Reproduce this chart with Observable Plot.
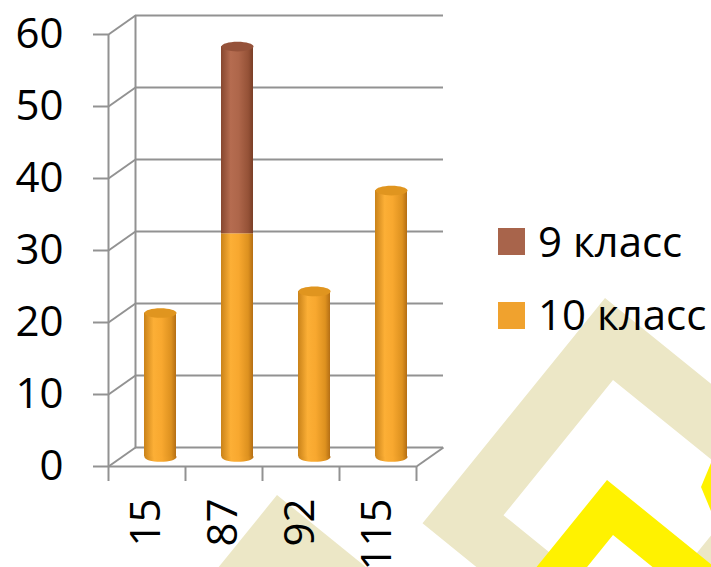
<!DOCTYPE html>
<html>
<head>
<meta charset="utf-8">
<script src="https://cdn.jsdelivr.net/npm/d3@7"></script>
<script src="https://cdn.jsdelivr.net/npm/@observablehq/plot@0.6"></script>
<style>
  html, body { margin: 0; padding: 0; background: #ffffff; }
  #wrap { position: relative; width: 711px; height: 567px; overflow: hidden; font-family: "Open Sans", sans-serif; }
  #bg, #chart { position: absolute; left: 0; top: 0; }
  .lg-sw { position: absolute; width: 27px; height: 27px; }
  .lg-tx { position: absolute; font-size: 42px; line-height: 42px; color: #000; white-space: nowrap; }
</style>
</head>
<body>
<svg width="0" height="0" style="position:absolute">
  <defs>
    <linearGradient id="g10" x1="0" x2="1" y1="0" y2="0">
      <stop offset="0" stop-color="#c98219"/>
      <stop offset="0.3" stop-color="#fcaf36"/>
      <stop offset="0.55" stop-color="#f8a82f"/>
      <stop offset="0.85" stop-color="#dd911f"/>
      <stop offset="1" stop-color="#b46e14"/>
    </linearGradient>
    <linearGradient id="g9" x1="0" x2="1" y1="0" y2="0">
      <stop offset="0" stop-color="#86472f"/>
      <stop offset="0.3" stop-color="#b56c50"/>
      <stop offset="0.55" stop-color="#ae664a"/>
      <stop offset="0.85" stop-color="#955237"/>
      <stop offset="1" stop-color="#7a3e27"/>
    </linearGradient>
  </defs>
</svg>
<div id="wrap">
  <svg id="bg" width="711" height="567">
    <path fill="#ece7c6" fill-rule="evenodd" id="beige"></path>
    <path fill="#ece7c6" id="beige2"></path>
    <path fill="#fff200" fill-rule="evenodd" id="yellow"></path>
    <path fill="#fff200" d="M711,463 L701,487 L711,511 Z"></path>
  </svg>
  <div id="chart"></div>
</div>
<script>
// ---- data ----
const categories = ["15", "87", "92", "115"];
const class10 = [20, 31, 23, 37];
const class9 = [0, 26, 0, 0];
const seriesNames = ["9 класс", "10 класс"];
const yTicks = [0, 10, 20, 30, 40, 50, 60];

// ---- style / layout ----
const seriesColors = ["#a8644b", "#f0a22e"];
const W = 711, H = 567;
const ML = 108, MR = 295, MT = 34, MB = 101;
const DEPTH_X = 27, DEPTH_Y = 19;
const CYL_W = 32;
const GRID = "#929292";

// background decoration (rotated square frames)
function sq(tx, ty, s) {
  const u = [-Math.cos(51 * Math.PI / 180), Math.sin(51 * Math.PI / 180)];
  const v = [Math.cos(39 * Math.PI / 180), Math.sin(39 * Math.PI / 180)];
  const p = [[tx, ty], [tx + s * u[0], ty + s * u[1]], [tx + s * u[0] + s * v[0], ty + s * u[1] + s * v[1]], [tx + s * v[0], ty + s * v[1]]];
  return "M" + p.map(d => d.join(",")).join("L") + "Z";
}
document.getElementById("beige").setAttribute("d", sq(605, 298, 290) + sq(613, 380, 174));
document.getElementById("beige2").setAttribute("d", sq(277, 495, 200));
document.getElementById("yellow").setAttribute("d", sq(607, 480, 200) + sq(613, 535, 120));

// ---- table ----
const rows = categories.map((c, i) => ({i, cat: c, c10: class10[i], c9: class9[i], total: class10[i] + class9[i]}));

const band = (W - ML - MR) / categories.length;
const yUnit = (H - MT - MB) / (yTicks[yTicks.length - 1] - yTicks[0]);
const dxu = DEPTH_X / band, dyu = DEPTH_Y / yUnit;
const cw = CYL_W / band;
const offX = DEPTH_X / 2, offY = -DEPTH_Y / 2;

const ellipse = {
  draw(ctx, size) {
    const rx = Math.sqrt(size / Math.PI), ry = rx * 0.3, k = 0.5523;
    ctx.moveTo(rx, 0);
    ctx.bezierCurveTo(rx, ry * k, rx * k, ry, 0, ry);
    ctx.bezierCurveTo(-rx * k, ry, -rx, ry * k, -rx, 0);
    ctx.bezierCurveTo(-rx, -ry * k, -rx * k, -ry, 0, -ry);
    ctx.bezierCurveTo(rx * k, -ry, rx, -ry * k, rx, 0);
    ctx.closePath();
  }
};

const chart = Plot.plot({
  width: W, height: H,
  marginLeft: ML, marginRight: MR, marginTop: MT, marginBottom: MB,
  style: {background: "transparent", fontFamily: "Open Sans", color: "#000", overflow: "visible"},
  x: {type: "linear", domain: [0, categories.length]},
  y: {type: "linear", domain: [yTicks[0], yTicks[yTicks.length - 1]]},
  marks: [
    // back wall grid
    Plot.ruleY(yTicks, {dx: DEPTH_X, dy: -DEPTH_Y, stroke: GRID, strokeWidth: 2}),
    Plot.ruleX([0], {y1: 0, y2: 60, dx: DEPTH_X, dy: -DEPTH_Y, stroke: GRID, strokeWidth: 2}),
    // side wall connectors
    Plot.link(yTicks, {x1: 0, x2: dxu, y1: d => d, y2: d => d + dyu, stroke: GRID, strokeWidth: 2}),
    // floor
    Plot.ruleY([0], {stroke: GRID, strokeWidth: 2}),
    Plot.link([0], {x1: categories.length, x2: categories.length + dxu, y1: 0, y2: dyu, stroke: GRID, strokeWidth: 2}),
    // front vertical axis line
    Plot.ruleX([0], {y1: 0, y2: 60, stroke: GRID, strokeWidth: 2}),
    // axes
    Plot.axisY(yTicks, {tickSize: 15, tickPadding: 30, fontSize: 42, stroke: GRID, strokeWidth: 2, color: "#000", label: null}),
    Plot.axisX(d3.range(categories.length + 1), {tickSize: 15, tickFormat: () => "", stroke: GRID, strokeWidth: 2, color: "#000", label: null}),
    Plot.axisX(categories.map((c, i) => i + 0.5), {tickSize: 0, tickPadding: 32, tickRotate: -90, fontSize: 42, color: "#000", label: null,
      tickFormat: d => categories[Math.floor(d)]}),
    // cylinders
    Plot.dot(rows, {x: d => d.i + 0.5, y: 0, r: CYL_W / 2, symbol: ellipse, fill: "url(#g10)", dx: offX, dy: offY}),
    Plot.rect(rows, {x1: d => d.i + 0.5 - cw / 2, x2: d => d.i + 0.5 + cw / 2, y1: 0, y2: "c10", fill: "url(#g10)", dx: offX, dy: offY}),
    Plot.rect(rows.filter(d => d.c9 > 0), {x1: d => d.i + 0.5 - cw / 2, x2: d => d.i + 0.5 + cw / 2, y1: "c10", y2: "total", fill: "url(#g9)", dx: offX, dy: offY}),
    Plot.dot(rows, {x: d => d.i + 0.5, y: "total", r: CYL_W / 2, symbol: ellipse, fill: d => d.c9 > 0 ? "#95523a" : "#e0951f", stroke: "none", dx: offX, dy: offY})
  ]
});
const wrap = document.getElementById("chart");
wrap.appendChild(chart);

// ---- legend ----
const legendPos = [{sw: [498, 228], tx: [538, 220]}, {sw: [498, 302], tx: [538, 293]}];
seriesNames.forEach((name, k) => {
  const sw = document.createElement("div");
  sw.className = "lg-sw";
  sw.style.left = legendPos[k].sw[0] + "px";
  sw.style.top = legendPos[k].sw[1] + "px";
  sw.style.background = seriesColors[k];
  const tx = document.createElement("div");
  tx.className = "lg-tx";
  tx.style.left = legendPos[k].tx[0] + "px";
  tx.style.top = legendPos[k].tx[1] + "px";
  tx.textContent = name;
  document.getElementById("wrap").appendChild(sw);
  document.getElementById("wrap").appendChild(tx);
});
</script>
</body>
</html>
